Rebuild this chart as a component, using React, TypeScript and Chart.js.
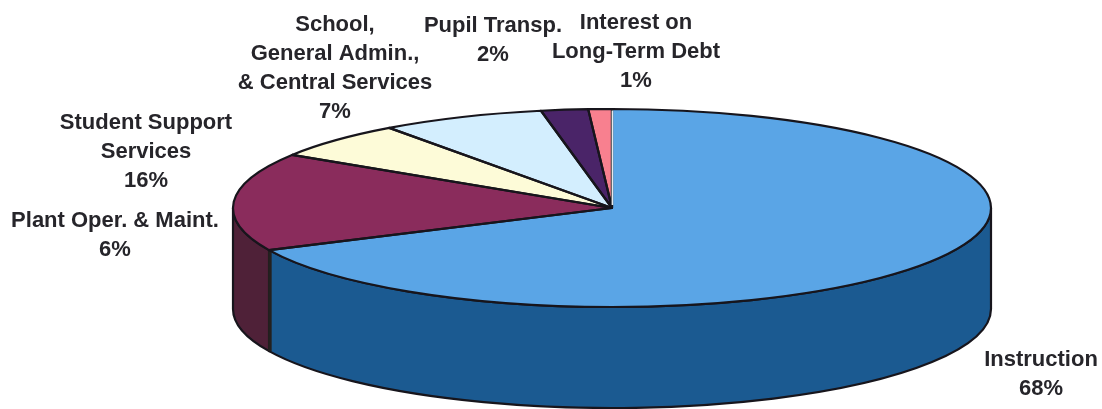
import React, { useEffect, useRef } from "react";
import { Chart, registerables } from "chart.js";

Chart.register(...registerables);

const categories = [
  "Instruction",
  "Student Support Services",
  "Plant Oper. & Maint.",
  "School, General Admin., & Central Services",
  "Pupil Transp.",
  "Interest on Long-Term Debt",
];
const shares = [68, 16, 6, 7, 2, 1];
const labelLines = [
  ["Instruction", "68%"],
  ["Student Support", "Services", "16%"],
  ["Plant Oper. & Maint.", "6%"],
  ["School,", "General Admin.,", "& Central Services", "7%"],
  ["Pupil Transp.", "2%"],
  ["Interest on", "Long-Term Debt", "1%"],
];
const topColors = ["#5aa5e6", "#8a2c5c", "#fdfbd8", "#d3eefe", "#4a2468", "#f8808f"];
const sideColors = ["#1b5a91", "#4f2138", "#8f8d70", "#7a8c98", "#2a143c", "#8f4a54"];

// Centre x and first-baseline y of each label block
const labelAnchors = [
  [1041, 366],
  [146, 129],
  [115, 227],
  [335, 31],
  [493, 32],
  [636, 29],
];

const CX = 612;
const CY = 208;
const RX = 379;
const RY = 99;
const DEPTH = 101;
const LINE = "#17151c";

const pie3d = {
  id: "pie3d",
  beforeDatasetsDraw(chart: any) {
    const ctx: CanvasRenderingContext2D = chart.ctx;
    const arcs = chart.getDatasetMeta(0).data;
    ctx.save();
    ctx.lineWidth = 2.2;
    ctx.strokeStyle = LINE;
    ctx.lineJoin = "round";
    // Rim: only the front half of the disc (canvas angles 0..PI) is visible
    arcs.forEach((arc: any, i: number) => {
      const two = Math.PI * 2;
      const s = arc.startAngle;
      const e = arc.endAngle;
      [0, two].forEach((shift) => {
        const a = Math.max(s - shift, 0);
        const b = Math.min(e - shift, Math.PI);
        if (b <= a) return;
        ctx.beginPath();
        ctx.ellipse(CX, CY, RX, RY, 0, a, b);
        ctx.ellipse(CX, CY + DEPTH, RX, RY, 0, b, a, true);
        ctx.closePath();
        ctx.fillStyle = sideColors[i];
        ctx.fill();
        ctx.stroke();
      });
    });
    // Heavier seam where the two visible rim faces meet
    const seam = arcs[0].endAngle;
    const sx = CX + RX * Math.cos(seam);
    const sy = CY + RY * Math.sin(seam);
    ctx.lineWidth = 3.6;
    ctx.strokeStyle = "#24201f";
    ctx.beginPath();
    ctx.moveTo(sx + 0.8, sy);
    ctx.lineTo(sx + 0.8, sy + DEPTH);
    ctx.stroke();
    ctx.restore();

    // Squash the circular pie into the tilted disc for the library's own arcs
    const first = arcs[0];
    const r = first.outerRadius;
    ctx.save();
    ctx.translate(CX, CY);
    ctx.scale(RX / r, RY / r);
    ctx.translate(-first.x, -first.y);
  },
  afterDatasetsDraw(chart: any) {
    const ctx: CanvasRenderingContext2D = chart.ctx;
    ctx.restore();
    const arcs = chart.getDatasetMeta(0).data;
    ctx.save();
    ctx.lineWidth = 2.2;
    ctx.strokeStyle = LINE;
    ctx.lineJoin = "round";
    arcs.forEach((arc: any) => {
      ctx.beginPath();
      ctx.moveTo(CX, CY);
      ctx.ellipse(CX, CY, RX, RY, 0, arc.startAngle, arc.endAngle);
      ctx.closePath();
      ctx.stroke();
    });
    // Pale hairline along the twelve-o'clock edge, where the first slice starts
    ctx.strokeStyle = "#e4eaee";
    ctx.lineWidth = 1.6;
    ctx.beginPath();
    ctx.moveTo(CX + 0.4, CY - RY + 1.5);
    ctx.lineTo(CX + 0.4, CY - 3);
    ctx.stroke();
    ctx.restore();
  },
  afterDraw(chart: any) {
    const ctx: CanvasRenderingContext2D = chart.ctx;
    ctx.save();
    ctx.fillStyle = "#26252a";
    ctx.font = 'bold 22px "Liberation Sans"';
    ctx.textAlign = "center";
    ctx.textBaseline = "alphabetic";
    labelLines.forEach((lines, i) => {
      const [x, y] = labelAnchors[i];
      lines.forEach((line, j) => ctx.fillText(line, x, y + j * 29));
    });
    ctx.restore();
  },
};

export default function App() {
  const ref = useRef<HTMLCanvasElement>(null);
  useEffect(() => {
    const chart = new Chart(ref.current!, {
      type: "pie",
      data: {
        labels: categories,
        datasets: [
          { data: shares, backgroundColor: topColors, borderWidth: 0, clip: false } as any,
        ],
      },
      options: {
        animation: false,
        responsive: false,
        plugins: { legend: { display: false }, tooltip: { enabled: false } },
      },
      plugins: [pie3d],
    });
    return () => chart.destroy();
  }, []);
  return (
    <canvas
      ref={ref}
      width={1102}
      height={409}
      style={{ position: "fixed", left: 0, top: 0, display: "block", background: "#fff" }}
    />
  );
}
